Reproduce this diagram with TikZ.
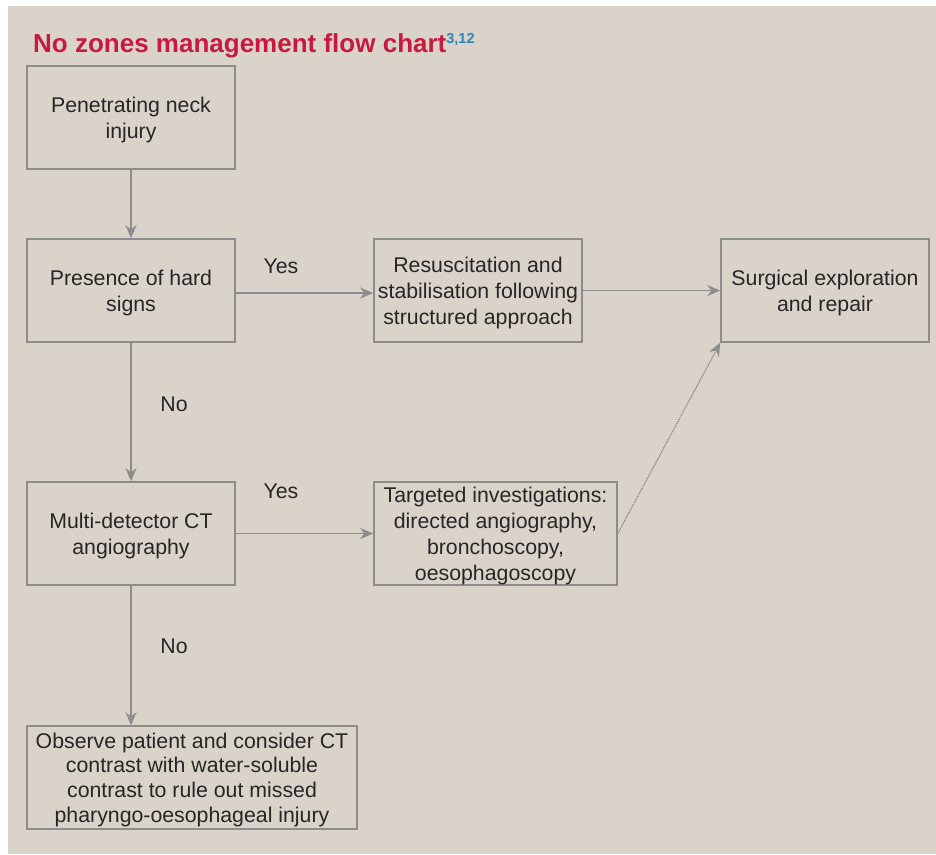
\documentclass[tikz,border=0pt]{standalone}
\usepackage{fontspec}
\setmainfont{Liberation Sans}
\usepackage{xcolor}
\usepackage{tikz}
\usetikzlibrary{arrows.meta}
\definecolor{bgbeige}{HTML}{D9D3CA}
\definecolor{linegray}{HTML}{8C8C8C}
\definecolor{titlered}{HTML}{C8193F}
\definecolor{refblue}{HTML}{2A86BD}
\begin{document}
\begin{tikzpicture}[x=1pt, y=-1pt,
  textbox/.style={font=\fontsize{21.3}{26}\selectfont, text=black!85, draw=linegray, line width=1.6pt, minimum width=208, minimum height=103, inner sep=4, text depth=0pt, align=center},
  flow/.style={draw=linegray, line width=1.8pt, -{Stealth[length=13pt, width=11pt]}},
  answer/.style={font=\fontsize{21.3}{26}\selectfont, text=black!85}]
\useasboundingbox (0,0) rectangle (936,854);
\fill[bgbeige] (8,6) rectangle (936,854);
% title
\node[anchor=base west, inner sep=0, text=titlered, font=\fontsize{26}{30}\selectfont\bfseries] (title) at (33,52) {No zones management flow chart\textcolor{refblue}{\raisebox{9pt}{\fontsize{14.5}{15}\selectfont 3,12}}};
% boxes
\node[textbox] (injury) at (131,117.5) {Penetrating neck\\injury};
\node[textbox] (hard) at (131,290.5) {Presence of hard\\signs};
\node[textbox] (resus) at (478,290.5) {Resuscitation and\\stabilisation following\\structured approach};
\node[textbox] (surgery) at (825,290.5) {Surgical exploration\\and repair};
\node[textbox] (ctang) at (131,533.5) {Multi-detector CT\\angiography};
\node[textbox, minimum width=243] (invest) at (495.5,533.5) {Targeted investigations:\\directed angiography,\\bronchoscopy,\\oesophagoscopy};
\node[textbox, minimum width=330, font=\fontsize{21.3}{24.8}\selectfont] (observe) at (192,777.5) {Observe patient and consider CT\\contrast with water-soluble\\contrast to rule out missed\\pharyngo-oesophageal injury};
% labels
\node[answer] (yes1) at (281,266) {Yes};
\node[answer] (no1) at (174,404) {No};
\node[answer] (yes2) at (281,491) {Yes};
\node[answer] (no2) at (174,646) {No};
% arrows
\draw [flow] (injury) -- (hard);
\draw [flow] (hard.east |- 0,293) -- (resus.west |- 0,293);
\draw [flow] (resus) -- (surgery);
\draw [flow] (hard) -- (ctang);
\draw [flow] (ctang) -- (invest);
\draw [flow] (ctang.south) -- (ctang.south |- observe.north);
\draw [flow, line width=1.3pt, densely dotted] (invest.east) -- (surgery.south west);
\end{tikzpicture}
\end{document}
